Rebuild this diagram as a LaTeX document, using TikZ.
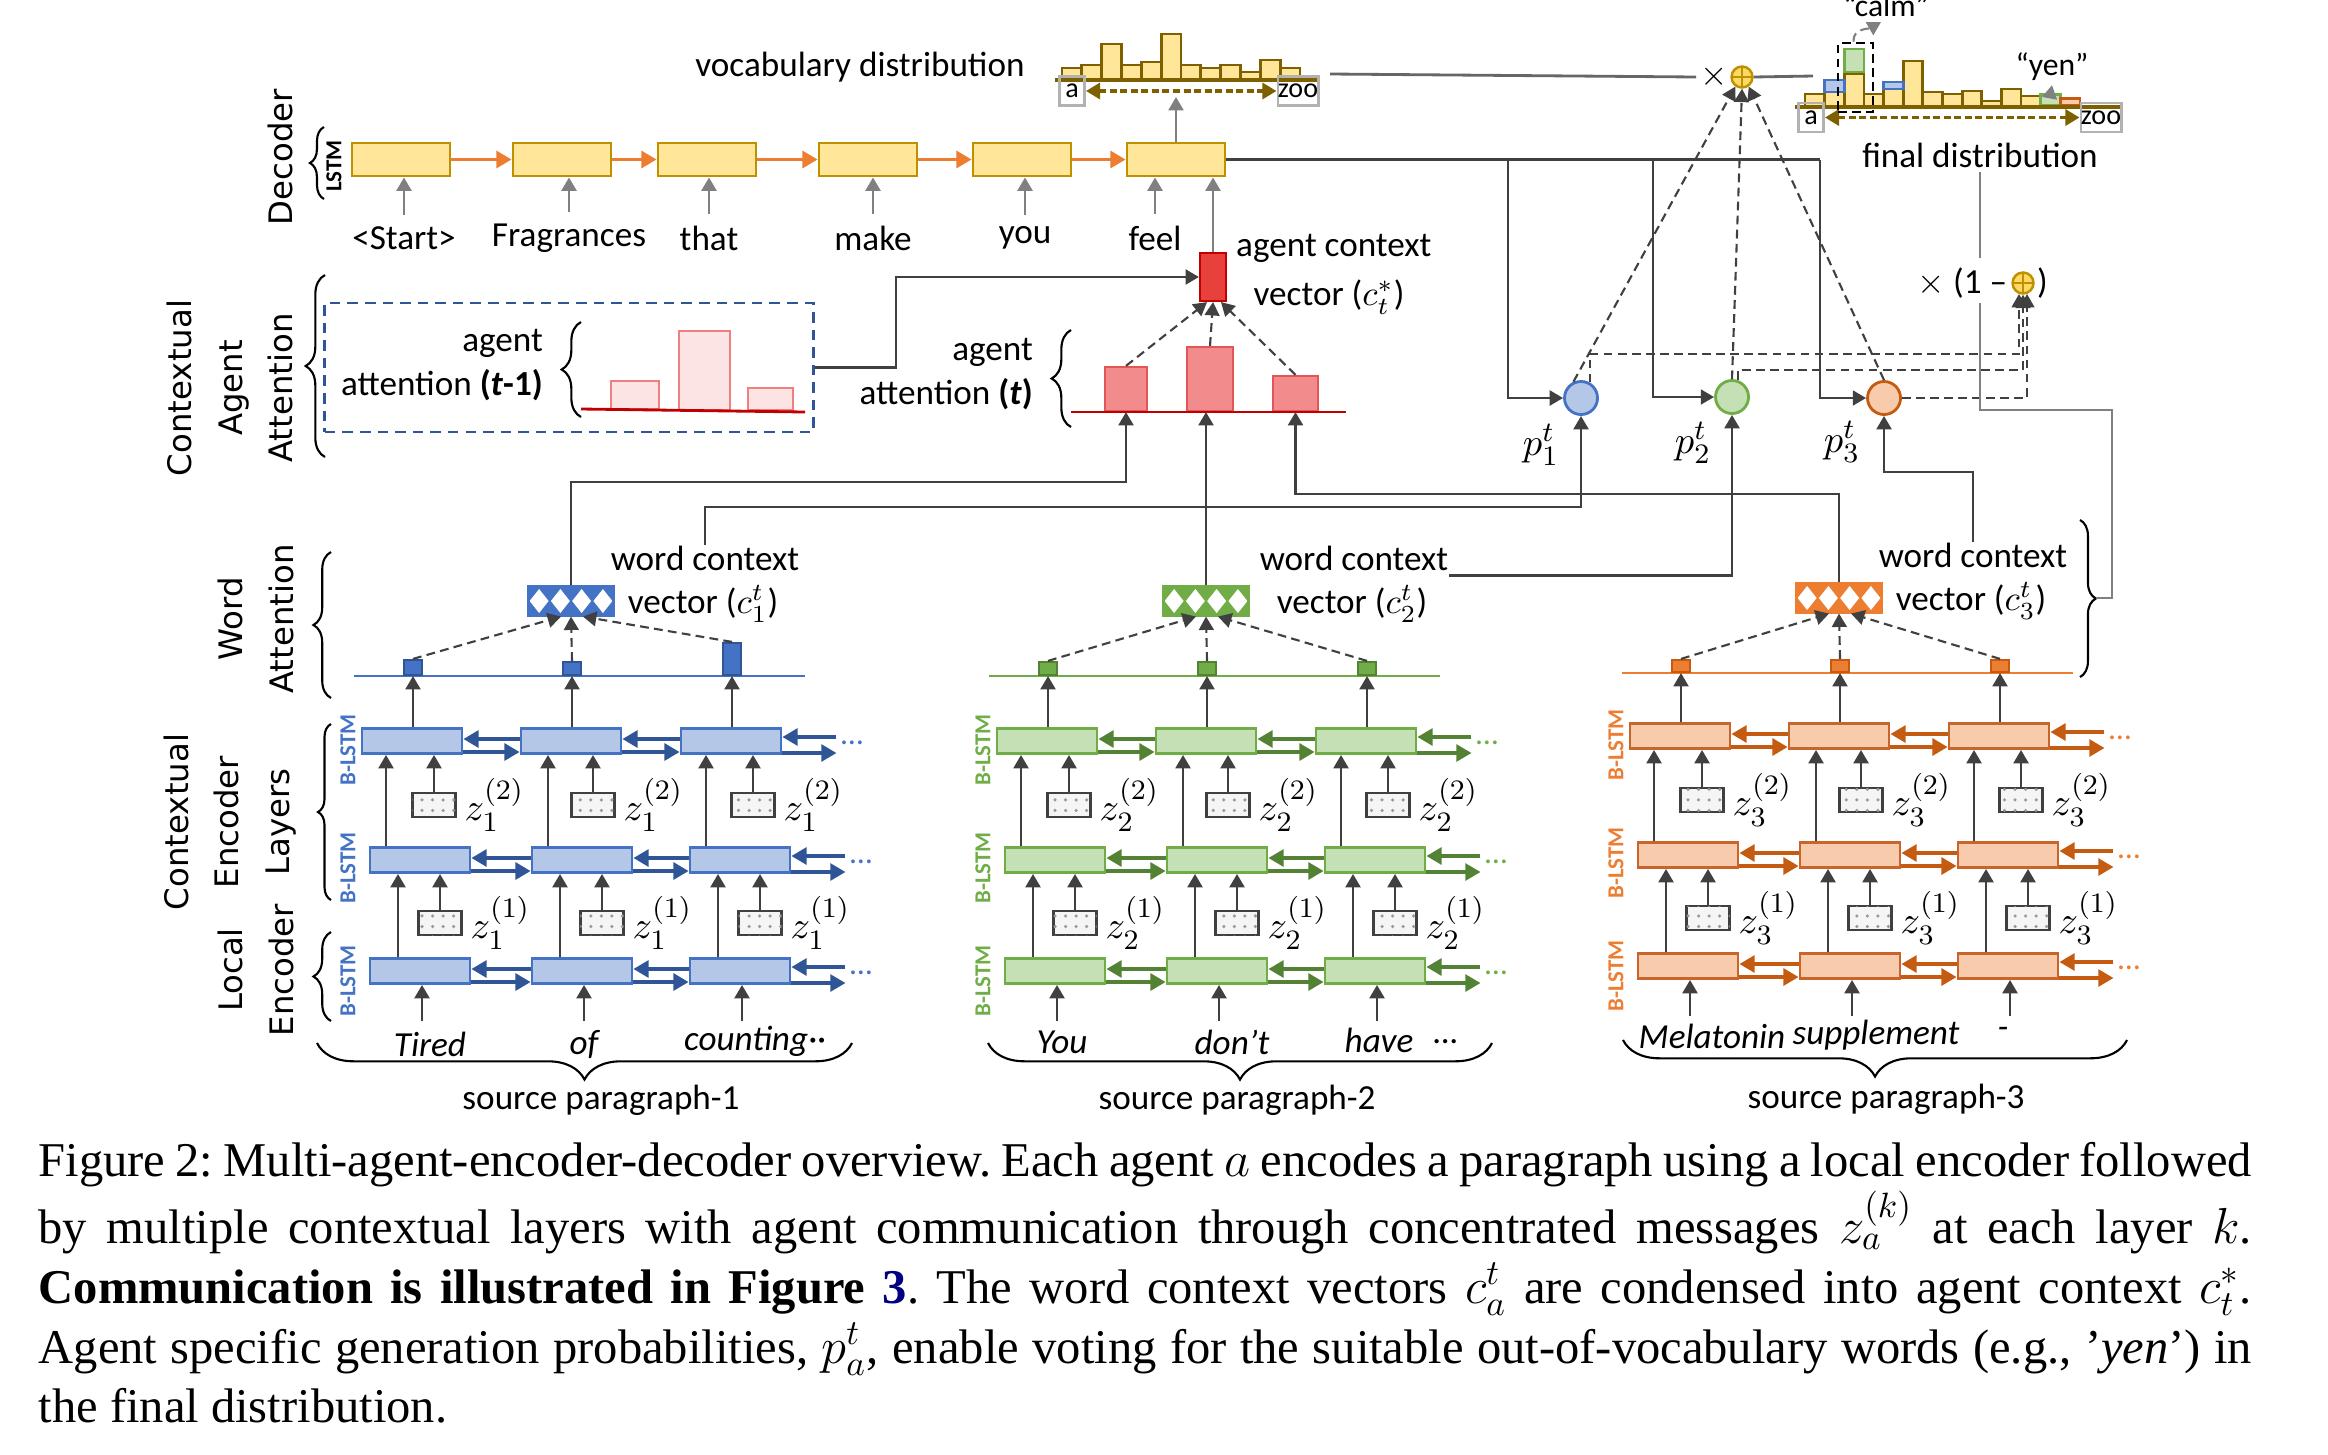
\documentclass[tikz,border=0pt]{standalone}
\usepackage{amsmath}
\usepackage{fontspec}
\setmainfont{Carlito}
\newfontfamily\grpfont{DejaVu Sans}
\newfontfamily\capfont{Liberation Serif}
\usetikzlibrary{arrows.meta, positioning, calc, patterns, decorations.pathreplacing}

\definecolor{dgray}{HTML}{404040}
\definecolor{mgray}{HTML}{808080}
\definecolor{fill1}{HTML}{B4C7E7}
\definecolor{line1}{HTML}{4472C4}
\definecolor{mid1}{HTML}{4472C4}
\definecolor{dark1}{HTML}{2F5597}
\definecolor{fill2}{HTML}{C5E0B4}
\definecolor{line2}{HTML}{70AD47}
\definecolor{mid2}{HTML}{70AD47}
\definecolor{dark2}{HTML}{548235}
\definecolor{fill3}{HTML}{F8CBAD}
\definecolor{line3}{HTML}{C9652A}
\definecolor{mid3}{HTML}{ED7D31}
\definecolor{dark3}{HTML}{C55A11}
\definecolor{yfill}{HTML}{FFE699}
\definecolor{yline}{HTML}{BF9000}
\definecolor{hline}{HTML}{7F6000}
\definecolor{sumfill}{HTML}{FFD966}
\definecolor{darr}{HTML}{ED7D31}
\definecolor{afill}{HTML}{F28C8C}
\definecolor{aline}{HTML}{E35656}
\definecolor{pfill}{HTML}{FCE4E4}
\definecolor{pline}{HTML}{F08080}
\definecolor{bred}{HTML}{E8413C}
\definecolor{dred}{HTML}{C00000}
\definecolor{capblue}{HTML}{000080}

\begin{document}
\begin{tikzpicture}[x=0.01cm, y=-0.01cm,
  lbl/.style={font=\fontsize{10}{12}\selectfont, inner sep=1pt},
  wlbl/.style={font=\itshape\fontsize{10}{12}\selectfont, inner sep=1pt},
  grp/.style={font=\grpfont\fontsize{9.2}{14.3}\selectfont, rotate=90, align=center, inner sep=0},
  blstm/.style={font=\bfseries\fontsize{6.5}{7}\selectfont, rotate=90, inner sep=0},
  arr/.style={draw=dgray, line width=0.8pt, -{Triangle[length=3.8pt,width=4.2pt]}},
  garr/.style={arr, draw=mgray},
  dasharr/.style={arr, line width=0.6pt, dash pattern=on 2.5pt off 1.5pt},
  conn/.style={draw=dgray, line width=0.8pt},
  lconn/.style={draw=mgray, line width=0.6pt},
  carr/.style={draw=#1, line width=0.9pt, -{Triangle[length=4.3pt,width=4.8pt]}},
  lstm/.style={draw, line width=0.8pt, minimum width=1cm, minimum height=0.25cm, inner sep=0},
  dec/.style={draw=yline, fill=yfill, line width=0.8pt, minimum width=0.98cm, minimum height=0.33cm, inner sep=0},
  zbox/.style={draw=dgray, line width=0.8pt, fill=gray!8, postaction={pattern=dots, pattern color=gray!80}, minimum width=0.43cm, minimum height=0.24cm, inner sep=0},
  zlbl/.style={font=\fontsize{11}{13}\selectfont, inner sep=0},
  abar/.style={draw=#1, line width=0.6pt, minimum width=0.18cm, inner sep=0, anchor=south},
  hbar/.style={draw=hline, fill=yfill, line width=0.8pt},
  tok/.style={draw=gray!60, line width=0.8pt, minimum width=0.25cm, minimum height=0.29cm, inner sep=0, font=\fontsize{8}{9}\selectfont},
  brarr/.style={draw=hline, line width=1pt, dash pattern=on 2pt off 1pt, {Triangle[length=4pt,width=4.5pt]}-{Triangle[length=4pt,width=4.5pt]}},
  osum/.style={circle, draw=yline, fill=sumfill, line width=0.7pt, minimum size=0.21cm, inner sep=0,
    path picture={\draw[yline, line width=0.6pt] (path picture bounding box.north) -- (path picture bounding box.south)
      (path picture bounding box.west) -- (path picture bounding box.east);}},
  pnode/.style={circle, line width=0.8pt, minimum size=0.33cm, inner sep=0},
  cvec/.style={draw=#1, fill=#1, line width=0.6pt, minimum width=0.85cm, minimum height=0.29cm, inner sep=0,
    path picture={\foreach \k in {0,1,2,3}{\fill[white] ($(path picture bounding box.west)!{(\k+0.5)/4}!(path picture bounding box.east)$)
      +(-9.5,0) -- +(0,-12) -- +(9.5,0) -- +(0,12) -- cycle;}}},
  brc/.style={decorate, decoration={brace, amplitude=#1}, line width=0.6pt},
  brc/.default=5pt]

\useasboundingbox (0,0) rectangle (2328,1454);

% group labels on the left
\node[grp] (gdec) at (280,157) {Decoder};
\node[blstm] (glstm) at (334,166) {LSTM};
\draw[brc=4pt] (324,199) -- (324,127);
\node[grp] (gcaa) at (230,388) {Contextual\\Agent\\Attention};
\draw[brc=5.5pt] (325,457) -- (325,275);
\node[grp] (gwa) at (256,619) {Word\\Attention};
\draw[brc=5pt] (331,698) -- (331,552);
\node[grp] (gcel) at (230,822) {Contextual\\Encoder\\Layers};
\draw[brc=3.7pt] (331,900) -- (331,724);
\node[grp] (gle) at (256,970) {Local\\Encoder};
\draw[brc=5pt] (331,1021) -- (331,932);

% decoder
\foreach \i/\x/\tx/\dword in {1/401/404/<Start>, 2/562/569/Fragrances, 3/707/709/that, 4/868/873/make, 5/1022/1025/you, 6/1176/1155/feel} {
  \node[dec] (d\i) at (\x,159.5) {};
  \node[lbl, inner sep=3pt] (tk\i) at (\tx,238) {\dword};
  \draw[garr] (tk\i.north) -- (tk\i.north |- d\i.south);
}
\foreach \i/\j in {1/2, 2/3, 3/4, 4/5, 5/6}
  \draw[carr=darr] (d\i.east) -- (d\j.west);

% vocabulary distribution
\node[lbl] (vd) at (860,67) {vocabulary distribution};
\foreach \k/\tp in {0/68,1/65,2/44,3/65,4/62,5/34,6/65,7/68,8/65,9/72,10/60,11/68}
  \draw[hbar] ({1062+19.83*\k},80) rectangle ({1081.83+19.83*\k},\tp);
\draw[draw=hline, line width=1pt] (1055,80) -- (1320,80);
\node[tok] (va) at (1072,91) {a};
\node[tok, minimum width=0.4cm] (vz) at (1298,91) {zoo};
\draw[brarr] (va.east) -- (vz.west);
\coordinate (vtip) at (1176,97);
\draw[garr] (d6.north -| vtip) -- (vtip);
\coordinate (vout) at (1330,74);

% mixing
\node[lbl] (tm) at (1714,77) {$\times$};
\node[osum] (sum) at (1742,77) {};
\draw[conn, draw=dgray!80] (vout) -- (tm.west);
\coordinate (fin) at (1813,76);
\draw[conn, draw=dgray!80] (sum.east) -- (fin);

% final distribution
\foreach \k/\tp in {0/94,1/92,2/74,3/94,4/89,5/61,6/92,7/94,8/91,9/101,10/89,11/96}
  \draw[hbar] ({1805+19.64*\k},107) rectangle ({1824.64+19.64*\k},\tp);
\draw[draw=line1, fill=fill1, line width=0.8pt] (1824.64,92) rectangle (1844.28,80);
\draw[draw=line2, fill=fill2, line width=0.8pt] (1844.28,72) rectangle (1863.92,49);
\draw[draw=line1, fill=fill1, line width=0.8pt] (1883.56,89) rectangle (1903.2,82);
\node[draw=line2, fill=fill2, line width=0.8pt, minimum width=0.196cm, minimum height=0.11cm, inner sep=0, anchor=south] (yb) at (2050.5,107) {};
\node[draw=dark3, fill=fill3, line width=0.8pt, minimum width=0.196cm, minimum height=0.07cm, inner sep=0, anchor=south] (ob) at (2070.1,107) {};
\draw[draw=hline, line width=1pt] (1795,107) -- (2121,107);
\node[tok] (fa) at (1811,117.5) {a};
\node[tok, minimum width=0.39cm] (fz) at (2101,117.5) {zoo};
\draw[brarr] (fa.east) -- (fz.west);
\node[draw, dash pattern=on 2.5pt off 1.5pt, line width=0.8pt, minimum width=0.35cm, minimum height=0.69cm, inner sep=0] (cb) at (1855.5,77.5) {};
\node[lbl, font=\fontsize{9}{10}\selectfont] (calm) at (1886,5) {“calm”};
\coordinate (calmtip) at (1881,22);
\draw[dasharr, draw=mgray] ($(cb.north)+(-2,0)$) to[out=95, in=210] (calmtip);
\node[lbl, font=\fontsize{9}{10}\selectfont] (yen) at (2052,67) {“yen”};
\draw[garr, line width=0.6pt] (yb.north) -- (yen.south);
\node[lbl] (fd) at (1980,155) {final distribution};

\node[osum] (sum2) at (2023,283) {};
\node[lbl, anchor=east] (om) at (sum2.west) {$\times$ (1 –};
\node[lbl, anchor=west, inner sep=0.5pt] (omr) at (sum2.east) {)};
\draw[lconn] (fd.south) -- (fd.south |- 0,258);

% agent generation probabilities
\node[pnode, draw=line1, fill=fill1] (p1) at (1581,398) {};
\node[pnode, draw=line2, fill=fill2] (p2) at (1732,397) {};
\node[pnode, draw=dark3, fill=fill3] (p3) at (1884,398) {};
\node[zlbl] (pl1) at (1541,445) {$p_1^t$};
\node[zlbl] (pl2) at (1693,443) {$p_2^t$};
\node[zlbl] (pl3) at (1842,442) {$p_3^t$};

\draw[conn] (d6.east) -- (d6.east -| 1820,0);
\foreach \k/\x in {1/1508, 2/1653, 3/1820}
  \draw[arr] (d6.east -| \x,0) |- (p\k.west);

\draw[dasharr] (p1.115) -- (sum.235);
\draw[dasharr] (p2.north) -- (sum.270);
\draw[dasharr] (p3.north) -- (sum.305);
\draw[dasharr] (p1.60) |- (sum2.250 |- 0,354) -- (sum2.250);
\draw[dasharr] (p2.70) |- (sum2.270 |- 0,370) -- (sum2.270);
\draw[dasharr] (p3.east) -| (sum2.290);

% agent attention
\node[draw=dark1, dash pattern=on 3pt off 2pt, line width=0.8pt, minimum width=4.88cm, minimum height=1.29cm, inner sep=0] (attbox) at (569,367.5) {};
\node[lbl, anchor=east, align=right, font=\fontsize{10}{12.5}\selectfont] (la1) at (547,365) {agent\\attention \textbf{(\textit{t}-1)}};
\draw[brc=5.5pt] (581,417) -- (581,322);
\node[abar=pline, fill=pfill, minimum width=0.48cm, minimum height=0.28cm] (ap1) at (635,410) {};
\node[abar=pline, fill=pfill, minimum width=0.51cm, minimum height=0.79cm] (ap2) at (704.5,411) {};
\node[abar=pline, fill=pfill, minimum width=0.45cm, minimum height=0.22cm] (ap3) at (770.5,411) {};
\draw[draw=dred, line width=0.8pt] (581,409) -- (805,412);

\node[lbl, anchor=east, align=right, font=\fontsize{10}{12.5}\selectfont] (la2) at (1037,374) {agent\\attention \textbf{(\textit{t})}};
\draw[brc=5.5pt] (1071,427) -- (1071,330);
\node[abar=aline, fill=afill, minimum width=0.42cm, minimum height=0.44cm] (at1) at (1126,412) {};
\node[abar=aline, fill=afill, minimum width=0.46cm, minimum height=0.64cm] (at2) at (1210,412) {};
\node[abar=aline, fill=afill, minimum width=0.45cm, minimum height=0.35cm] (at3) at (1295.5,412) {};
\draw[draw=dred, line width=0.8pt] (1071,412) -- (1346,412);

\node[draw=dred, fill=bred, line width=0.6pt, minimum width=0.26cm, minimum height=0.48cm, inner sep=0] (ac) at (1213,277) {};
\node[lbl, anchor=west] (acl1) at (1232,248) {agent context};
\node[lbl] (acl2) at (1329,297) {vector ($c^{*}_{t}$)};
\draw[dasharr] (at1.north) -- ($(ac.south)+(-6,0)$);
\draw[dasharr] (at2.north) -- (ac.south);
\draw[dasharr] (at3.north) -- ($(ac.south)+(8,0)$);
\draw[arr] (attbox.east) -- (attbox.east -| 896,0) |- (ac.west);
\draw[garr] (ac.north) -- (ac.north |- d6.south);

% encoders of the three agents
\foreach \ag/\dx/\dy/\dya/\lx/\ha/\hb/\hc in {1/0/0/0/0/15/13/32, 2/635/0/0/14/13/13/13, 3/1268/-5/-3/0/12/12/12} {
  \node[cvec=mid\ag] (c\ag) at ({571+\dx},{601+\dya}) {};
  \node[lbl, inner sep=0] (wc\ag) at ({705+\lx+\dx},{558+\dya}) {word context};
  \node[lbl, inner sep=0] (vc\ag) at ({703+\lx+\dx},{604+\dya}) {vector ($c_{\ag}^{t}$)};
  \draw[draw=mid\ag, line width=0.8pt] ({354+\dx},{676+\dya}) -- ({805+\dx},{676+\dya});
  \foreach \i/\xt/\xm/\h/\off in {1/412/420/\ha/-10, 2/571/582/\hb/0, 3/731/740/\hc/12} {
    \node[lstm, fill=fill\ag, draw=line\ag] (e\ag-3-\i) at ({\xt+\dx},{741+\dy}) {};
    \node[lstm, fill=fill\ag, draw=line\ag] (e\ag-2-\i) at ({\xm+\dx},{860+\dy}) {};
    \node[lstm, fill=fill\ag, draw=line\ag] (e\ag-1-\i) at ({\xm+\dx},{971+\dy}) {};
    \node[zbox] (z\ag-2-\i) at ({\xt+22+\dx},{805+\dy}) {};
    \node[zlbl, right=2pt of z\ag-2-\i] (zl\ag-2-\i) {$z_{\ag}^{(2)}$};
    \node[zbox] (z\ag-1-\i) at ({\xm+20+\dx},{923+\dy}) {};
    \node[zlbl, right=2pt of z\ag-1-\i] (zl\ag-1-\i) {$z_{\ag}^{(1)}$};
    \node[abar=dark\ag, fill=mid\ag, minimum height=\h*0.01cm] (b\ag-\i) at ({\xt+1+\dx},{676+\dya}) {};
    \coordinate (w\ag-\i) at ({\xm+2+\dx},{1021+\dy});
    \draw[arr] ($(e\ag-2-\i.north)+(-34,0)$) coordinate (q) -- (q |- e\ag-3-\i.south);
    \draw[arr] (z\ag-2-\i.north) -- (z\ag-2-\i.north |- e\ag-3-\i.south);
    \draw[arr] ($(e\ag-1-\i.north)+(-22,0)$) coordinate (q) -- (q |- e\ag-2-\i.south);
    \draw[arr] (z\ag-1-\i.north) -- (z\ag-1-\i.north |- e\ag-2-\i.south);
    \draw[arr] (w\ag-\i) -- (w\ag-\i |- e\ag-1-\i.south);
    \draw[arr] (e\ag-3-\i.north -| b\ag-\i) -- (b\ag-\i.south);
    \draw[dasharr] (b\ag-\i.north) -- ($(c\ag.south)+(\off,0)$);
  }
  \foreach \ly/\yl in {3/750, 2/868, 1/981} {
    \node[blstm, text=mid\ag] (bl\ag-\ly) at ({348+\dx},{\yl+\dy}) {B-LSTM};
    \foreach \i/\j in {1/2, 2/3} {
      \draw[carr=dark\ag] ($(e\ag-\ly-\j.west)+(0,-2)$) -- ($(e\ag-\ly-\i.east)+(0,-2)$);
      \draw[carr=dark\ag] ($(e\ag-\ly-\i.east)+(0,11)$) -- ($(e\ag-\ly-\j.west)+(0,11)$);
    }
    \coordinate (o\ag-\ly) at ($(e\ag-\ly-3.east)+(54,0)$);
    \draw[carr=dark\ag] ($(o\ag-\ly)+(0,-4)$) -- ($(e\ag-\ly-3.east)+(0,-4)$);
    \draw[carr=dark\ag] ($(e\ag-\ly-3.east)+(0,12)$) -- ($(o\ag-\ly)+(0,12)$);
    \node[text=mid\ag, anchor=west, inner sep=0, font=\fontsize{9}{9}\selectfont] (dt\ag-\ly) at ($(o\ag-\ly)+(4,2)$) {…};
  }
}

% source words
\foreach \n/\x/\y/\wtx in {1-1/430/1044/Tired, 1-2/584/1044/of, 1-3/755/1041/counting··,
    2-1/1062/1042/You, 2-2/1232/1042/don’t, 2-3/1379/1040/have, 2-4/1446/1042/…,
    3-1/1712/1036/Melatonin, 3-2/1876/1035/supplement, 3-3/2003/1033/-}
  \node[wlbl] (word\n) at (\x,\y) {\wtx};
\draw[brc=10.4pt] (852,1043) -- (317,1043);
\draw[brc=10.4pt] (1492,1043) -- (988,1043);
\draw[brc=10.4pt] (2127,1040) -- (1623,1040);
\node[lbl] (sp1) at (601,1100) {source paragraph-1};
\node[lbl] (sp2) at (1237,1100) {source paragraph-2};
\node[lbl] (sp3) at (1886,1099) {source paragraph-3};

% context vectors to the agent level
\draw[arr] (c1.north) -- (c1.north |- 0,482) -| (at1.south);
\draw[arr] (wc1.north) -- (wc1.north |- 0,507) -| (p1.south);
\draw[arr] (c2.north) -- (c2.north |- at2.south);
\draw[arr] (c3.north) -- (c3.north |- 0,494) -| (at3.south);
\draw[arr] ([yshift=-5pt]wc2.east) -| (p2.south);
\draw[arr] (wc3.north) -- (wc3.north |- 0,472) -| (p3.south);
\draw[brc=4.5pt] (2080,520) -- (2080,677);
\coordinate (br3) at (2096,598);
\draw[lconn] (br3) -- (br3 -| 2112,0) -- (2112,410) -- (fd.south |- 0,410) -- (fd.south |- 0,303);

% caption
\node[anchor=north west, inner sep=0, text width=22.12cm, align=justify, font=\capfont\fontsize{13.8}{17}\selectfont] (cap) at (38,1142)
{\frenchspacing\hyphenpenalty=10000\spaceskip=.25em plus .3em minus .1em\relax
Figure 2: Multi-agent-encoder-decoder overview. Each agent $a$ encodes a paragraph using a local encoder followed\linebreak
by multiple contextual layers with agent communication through concentrated messages $z_a^{(k)}$ at each layer $k$.\linebreak
\textbf{Communication is illustrated in Figure \textcolor{capblue}{3}}. The word context vectors $c_a^t$ are condensed into agent context $c_t^*$.\linebreak
Agent specific generation probabilities, $p_a^t$, enable voting for the suitable out-of-vocabulary words (e.g., ’\textit{yen}’) in\linebreak
the final distribution.};

\end{tikzpicture}
\end{document}
